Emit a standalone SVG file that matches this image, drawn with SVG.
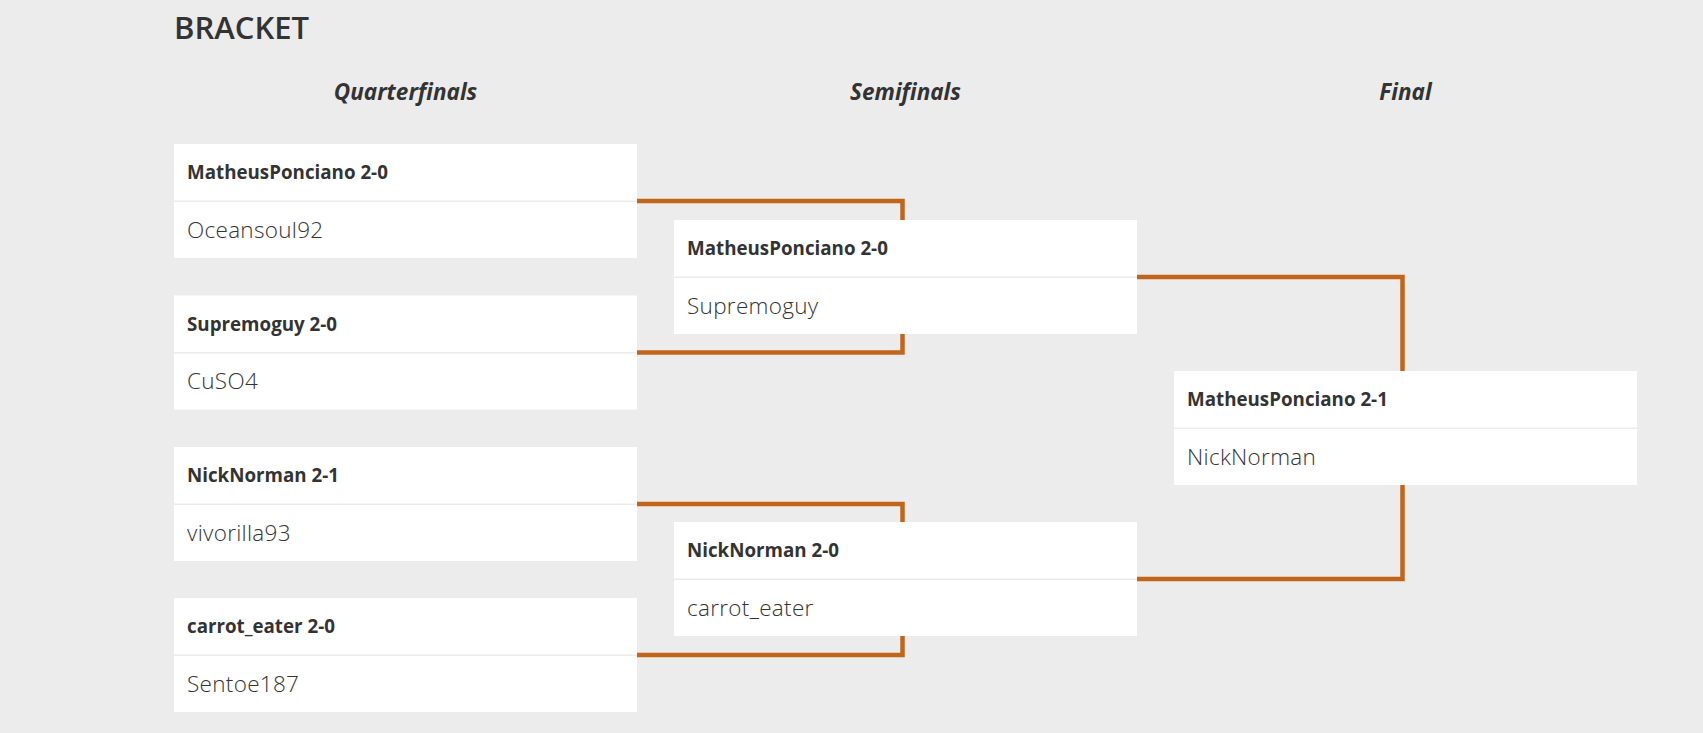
<svg xmlns="http://www.w3.org/2000/svg" width="1703" height="733" viewBox="0 0 1703 733">
<style>
.bg{fill:#ececec}
.box{fill:#ffffff}
.div{fill:#ebebeb}
.win{font-family:"Open Sans","Liberation Sans",sans-serif;font-weight:700;font-size:18.75px;fill:#333333}
.lose{font-family:"Open Sans","Liberation Sans",sans-serif;font-weight:300;font-size:22.5px;letter-spacing:0.3px;fill:#333333}
.round{font-family:"Open Sans","Liberation Sans",sans-serif;font-weight:700;font-style:italic;font-size:22.5px;fill:#333333;text-anchor:middle}
.title{font-family:"Open Sans","Liberation Sans",sans-serif;font-weight:600;font-size:31px;fill:#333333}
.conn{fill:none;stroke:#c1651a;stroke-width:4.5}
</style>
<rect class="bg" x="0" y="0" width="1703" height="733"/>
<text class="title" x="174" y="39">BRACKET</text>
<text class="round" x="405.5" y="100">Quarterfinals</text>
<text class="round" x="905.5" y="100">Semifinals</text>
<text class="round" x="1405.5" y="100">Final</text>
<g id="connectors">
<path class="conn" d="M637,201 H902.5 V352.5 H637"/>
<path class="conn" d="M637,504 H902.5 V655 H637"/>
<path class="conn" d="M1137,277 H1402.5 V579 H1137"/>
</g>
<g id="qf1">
<rect class="box" x="174" y="144" width="463" height="114"/>
<rect class="div" x="174" y="200.5" width="463" height="1.5"/>
<text class="win" x="187" y="179">MatheusPonciano 2-0</text>
<text class="lose" x="187" y="237.5">Oceansoul92</text>
</g>
<g id="qf2">
<rect class="box" x="174" y="295.5" width="463" height="114"/>
<rect class="div" x="174" y="352" width="463" height="1.5"/>
<text class="win" x="187" y="330.5">Supremoguy 2-0</text>
<text class="lose" x="187" y="389">CuSO4</text>
</g>
<g id="qf3">
<rect class="box" x="174" y="447" width="463" height="114"/>
<rect class="div" x="174" y="503.5" width="463" height="1.5"/>
<text class="win" x="187" y="482">NickNorman 2-1</text>
<text class="lose" x="187" y="540.5">vivorilla93</text>
</g>
<g id="qf4">
<rect class="box" x="174" y="598" width="463" height="114"/>
<rect class="div" x="174" y="654.5" width="463" height="1.5"/>
<text class="win" x="187" y="633">carrot_eater 2-0</text>
<text class="lose" x="187" y="691.5">Sentoe187</text>
</g>
<g id="sf1">
<rect class="box" x="674" y="220" width="463" height="114"/>
<rect class="div" x="674" y="276.5" width="463" height="1.5"/>
<text class="win" x="687" y="255">MatheusPonciano 2-0</text>
<text class="lose" x="687" y="313.5">Supremoguy</text>
</g>
<g id="sf2">
<rect class="box" x="674" y="522" width="463" height="114"/>
<rect class="div" x="674" y="578.5" width="463" height="1.5"/>
<text class="win" x="687" y="557">NickNorman 2-0</text>
<text class="lose" x="687" y="615.5">carrot_eater</text>
</g>
<g id="final">
<rect class="box" x="1174" y="371" width="463" height="114"/>
<rect class="div" x="1174" y="427.5" width="463" height="1.5"/>
<text class="win" x="1187" y="406">MatheusPonciano 2-1</text>
<text class="lose" x="1187" y="464.5">NickNorman</text>
</g>
</svg>
